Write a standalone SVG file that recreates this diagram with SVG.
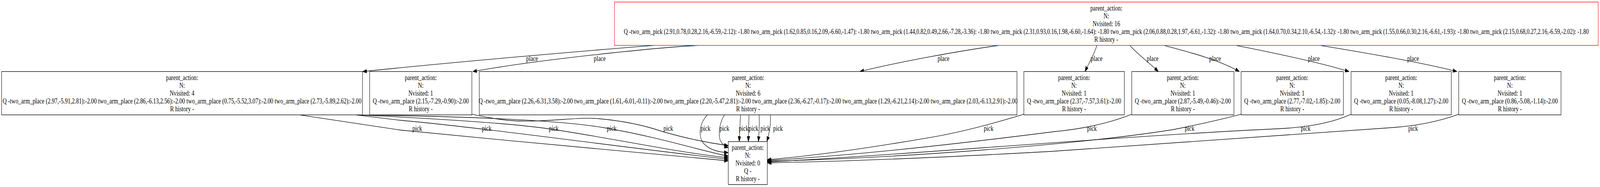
<svg xmlns="http://www.w3.org/2000/svg" width="5333" height="479" viewBox="0 0 5333 479" preserveAspectRatio="none" style="width:100vw;height:100vh;display:block">
<style>
.n{fill:#fff;stroke:#000;stroke-width:1.33}
.root{fill:#fff;stroke:#ff0000;stroke-width:1.33}
text{font-family:"Liberation Serif","Times New Roman",serif;font-size:18.67px;fill:#000;text-anchor:middle}
.e{fill:none;stroke:#000;stroke-width:1.33;marker-end:url(#ah)}
</style>
<defs>
<marker id="ah" markerUnits="userSpaceOnUse" markerWidth="15" markerHeight="11" viewBox="0 0 15 11" refX="13.3" refY="5.5" orient="auto">
<path d="M0,0.8 L13.3,5.5 L0,10.2 z" fill="#000" stroke="#000" stroke-width="1"/>
</marker>
</defs>
<rect x="0" y="0" width="5333" height="479" fill="#fff"/>
<g id="edges">
<path class="e" d="M2180,116.3 C1950,130 1500,160 1209,183.3"/>
<path class="e" d="M2330,116.3 C2200,121 1800,152 1576,183.3"/>
<path class="e" d="M3330,116.3 C3200,130 3000,158 2866,183.3"/>
<path class="e" d="M3656,116.3 C3648,138 3630,160 3616.6,183.3"/>
<path class="e" d="M3766,116.3 C3790,138 3830,160 3860.7,183.3"/>
<path class="e" d="M3880,116.3 C3960,133 4060,152 4130.8,183.3"/>
<path class="e" d="M4120,116.3 C4250,136 4400,160 4496.5,183.3"/>
<path class="e" d="M4400,116.3 C4550,135 4740,160 4856,183.3"/>
<text x="1773.5" y="156">place</text>
<text x="1998.8" y="156">place</text>
<text x="3144.7" y="156">place</text>
<text x="3655" y="156">place</text>
<text x="3842" y="156">place</text>
<text x="4050" y="156">place</text>
<text x="4379" y="156">place</text>
<text x="4710" y="156">place</text>
<path class="e" d="M999,294.3 C1130,309 1240,323 1333,333 C1700,360 2150,395 2427.4,412"/>
<path class="e" d="M1186,294.3 C1260,301 1300,305 1333,308 C1600,326 2100,380 2427.4,408"/>
<path class="e" d="M1195,294.3 C1400,302 1700,315 1830,330 C2050,355 2250,390 2427.4,404"/>
<path class="e" d="M1203,294.3 C1500,298 1850,305 2020,328 C2200,352 2330,385 2427.4,400"/>
<path class="e" d="M1572.8,292.7 C1680,310 1720,311 1775,310 C1880,308 1930,300 1996,304 C2080,310 2150,322 2200,335 C2300,358 2380,368 2427.4,373"/>
<path class="e" d="M2357.7,294.3 C2336,312 2326,340 2340,362 C2360,385 2400,390 2427.4,391"/>
<path class="e" d="M2414.6,294.3 C2400,312 2393,340 2400,358 C2407,370 2418,376 2427.4,378"/>
<path class="e" d="M2468.2,294.3 C2467,320 2465,340 2464,362.7"/>
<path class="e" d="M2496.3,294.3 C2496,320 2495,340 2494.5,362.7"/>
<path class="e" d="M2530.3,294.3 C2532,320 2530,342 2527.7,362.7"/>
<path class="e" d="M2567.7,294.3 C2570,320 2564,342 2556,362.7"/>
<path class="e" d="M3412.6,292.7 C3330,312 3200,340 3091,353.3 C2950,372 2750,397 2557.5,409"/>
<path class="e" d="M3772.3,292.7 C3700,315 3610,330 3516,337 C3300,358 2900,396 2557.5,411"/>
<path class="e" d="M4136.8,292.7 C4060,308 3990,320 3910,332 C3600,370 3000,405 2557.5,413"/>
<path class="e" d="M4503.3,292.7 C4440,315 4350,327 4254,330 C3700,350 3000,398 2557.5,415"/>
<path class="e" d="M4862.1,292.7 C4800,310 4720,323 4636.7,327 C4300,342 3900,365 3500,388 C3100,405 2800,414 2557.5,417"/>
<text x="1390.8" y="335">pick</text>
<text x="1622" y="335">pick</text>
<text x="1845.7" y="335">pick</text>
<text x="2038.8" y="335">pick</text>
<text x="2227.6" y="335">pick</text>
<text x="2351.7" y="335">pick</text>
<text x="2414.6" y="335">pick</text>
<text x="2478.7" y="335">pick</text>
<text x="2511.7" y="335">pick</text>
<text x="2550.7" y="335">pick</text>
<text x="2593.2" y="335">pick</text>
<text x="3295" y="335">pick</text>
<text x="3639.6" y="335">pick</text>
<text x="3965" y="335">pick</text>
<text x="4352" y="335">pick</text>
<text x="4710" y="335">pick</text>
</g>
<g id="node-root">
<rect class="root" x="2048" y="5.3" width="3279" height="111"/>
<text x="3687.5" y="26.8">parent_action:</text>
<text x="3687.5" y="46.8">N:</text>
<text x="3687.5" y="66.8">Nvisited: 16</text>
<text x="3687.5" y="86.8" style="font-size:18.2px">Q -two_arm_pick (2.91,0.78,0.28,2.16,-6.59,-2.12): -1.80 two_arm_pick (1.62,0.85,0.16,2.09,-6.60,-1.47): -1.80 two_arm_pick (1.44,0.82,0.49,2.66,-7.28,-3.36): -1.80 two_arm_pick (2.31,0.93,0.16,1.98,-6.60,-1.64): -1.80 two_arm_pick (2.06,0.88,0.28,1.97,-6.61,-1.32): -1.80 two_arm_pick (1.64,0.70,0.34,2.10,-6.54,-1.32): -1.80 two_arm_pick (1.55,0.66,0.30,2.16,-6.61,-1.93): -1.80 two_arm_pick (2.15,0.68,0.27,2.16,-6.59,-2.02): -1.80</text>
<text x="3687.5" y="106.8">R history -</text>
</g>
<g id="node-1">
<rect class="n" x="5.3" y="183.3" width="1203" height="111"/>
<text x="606.8" y="204.8">parent_action:</text>
<text x="606.8" y="224.8">N:</text>
<text x="606.8" y="244.8">Nvisited: 4</text>
<text x="606.8" y="264.8">Q -two_arm_place (2.97,-5.91,2.81):-2.00 two_arm_place (2.86,-6.13,2.56):-2.00 two_arm_place (0.75,-5.52,3.07):-2.00 two_arm_place (2.73,-5.89,2.62):-2.00</text>
<text x="606.8" y="284.8">R history -</text>
</g>
<g id="node-2">
<rect class="n" x="1232.1" y="183.3" width="340.7" height="111"/>
<text x="1402.45" y="204.8">parent_action:</text>
<text x="1402.45" y="224.8">N:</text>
<text x="1402.45" y="244.8">Nvisited: 1</text>
<text x="1402.45" y="264.8">Q -two_arm_place (2.15,-7.29,-0.90):-2.00</text>
<text x="1402.45" y="284.8">R history -</text>
</g>
<g id="node-3">
<rect class="n" x="1597.5" y="183.3" width="1792.1" height="111"/>
<text x="2493.55" y="204.8">parent_action:</text>
<text x="2493.55" y="224.8">N:</text>
<text x="2493.55" y="244.8">Nvisited: 6</text>
<text x="2493.55" y="264.8">Q -two_arm_place (2.26,-6.31,3.58):-2.00 two_arm_place (1.61,-6.01,-0.11):-2.00 two_arm_place (2.20,-5.47,2.81):-2.00 two_arm_place (2.36,-6.27,-0.17):-2.00 two_arm_place (1.29,-6.21,2.14):-2.00 two_arm_place (2.03,-6.13,2.91):-2.00</text>
<text x="2493.55" y="284.8">R history -</text>
</g>
<g id="node-4">
<rect class="n" x="3412.6" y="183.3" width="335" height="111"/>
<text x="3580.1" y="204.8">parent_action:</text>
<text x="3580.1" y="224.8">N:</text>
<text x="3580.1" y="244.8">Nvisited: 1</text>
<text x="3580.1" y="264.8">Q -two_arm_place (2.37,-7.57,3.61):-2.00</text>
<text x="3580.1" y="284.8">R history -</text>
</g>
<g id="node-5">
<rect class="n" x="3772.3" y="183.3" width="340.6" height="111"/>
<text x="3942.6" y="204.8">parent_action:</text>
<text x="3942.6" y="224.8">N:</text>
<text x="3942.6" y="244.8">Nvisited: 1</text>
<text x="3942.6" y="264.8">Q -two_arm_place (2.87,-5.49,-0.46):-2.00</text>
<text x="3942.6" y="284.8">R history -</text>
</g>
<g id="node-6">
<rect class="n" x="4136.8" y="183.3" width="340.9" height="111"/>
<text x="4307.25" y="204.8">parent_action:</text>
<text x="4307.25" y="224.8">N:</text>
<text x="4307.25" y="244.8">Nvisited: 1</text>
<text x="4307.25" y="264.8">Q -two_arm_place (2.77,-7.02,-1.85):-2.00</text>
<text x="4307.25" y="284.8">R history -</text>
</g>
<g id="node-7">
<rect class="n" x="4503.3" y="183.3" width="334.1" height="111"/>
<text x="4670.35" y="204.8">parent_action:</text>
<text x="4670.35" y="224.8">N:</text>
<text x="4670.35" y="244.8">Nvisited: 1</text>
<text x="4670.35" y="264.8">Q -two_arm_place (0.05,-8.08,1.27):-2.00</text>
<text x="4670.35" y="284.8">R history -</text>
</g>
<g id="node-8">
<rect class="n" x="4862.1" y="183.3" width="341" height="111"/>
<text x="5032.6" y="204.8">parent_action:</text>
<text x="5032.6" y="224.8">N:</text>
<text x="5032.6" y="244.8">Nvisited: 1</text>
<text x="5032.6" y="264.8">Q -two_arm_place (0.86,-5.08,-1.14):-2.00</text>
<text x="5032.6" y="284.8">R history -</text>
</g>
<g id="node-leaf">
<rect class="n" x="2427.4" y="362.7" width="130.1" height="110"/>
<text x="2492.45" y="383.7">parent_action:</text>
<text x="2492.45" y="403.7">N:</text>
<text x="2492.45" y="423.7">Nvisited: 0</text>
<text x="2492.45" y="443.7">Q -</text>
<text x="2492.45" y="463.7">R history -</text>
</g>
</svg>
